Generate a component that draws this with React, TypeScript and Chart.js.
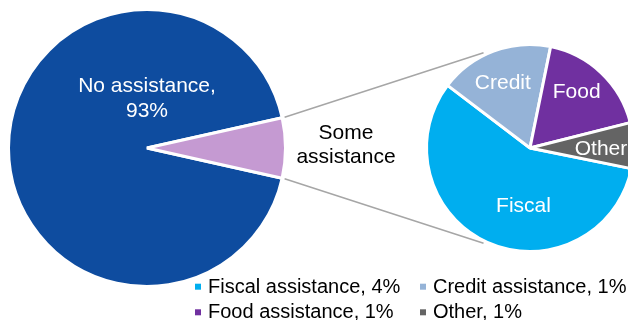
import React, { useEffect, useRef } from 'react';
import { Chart, registerables } from 'chart.js';

Chart.register(...registerables);

// ---- data ----
const MAIN_LABELS = ['No assistance', 'Some assistance'];
const MAIN_VALUES = [93, 7];
const DETAIL_LABELS = ['Fiscal', 'Credit', 'Food', 'Other'];
const DETAIL_LEGEND = ['Fiscal assistance', 'Credit assistance', 'Food assistance', 'Other'];
const DETAIL_VALUES = [4.0, 1.25, 1.25, 0.5];

// ---- styles ----
const MAIN_COLORS = ['#0E4C9F', '#C59AD2'];
const DETAIL_COLORS = ['#00AEEF', '#95B3D7', '#7030A0', '#646464'];
const FONT = '"Liberation Sans", Arial, Helvetica, sans-serif';
const DETAIL_ROTATION = 101.5;
const CONNECTOR_ANGLE = 116; // degrees on the secondary pie
const MAIN_LABEL_OFFSETS = [-55.7, -30.7];
const SOME_LABEL_POS = { dx: 199, dy: [-9, 15.3] };
const DETAIL_LABEL_OFFSETS: [number, number][] = [
  [-6.5, 64],
  [-27.2, -58.7],
  [46.7, -49.7],
  [71, 7],
];
const LEGEND_COLS = [195, 420];
const LEGEND_ROWS = [292.7, 318.3];

export default function App() {
  const leftRef = useRef<HTMLCanvasElement | null>(null);
  const rightRef = useRef<HTMLCanvasElement | null>(null);

  useEffect(() => {
    if (!leftRef.current || !rightRef.current) return;
    const total = MAIN_VALUES.reduce((a, b) => a + b, 0);
    const someSpan = (MAIN_VALUES[1] / total) * 360;

    const mainLabelsPlugin = {
      id: 'mainLabels',
      afterDraw(chart: any) {
        const ctx = chart.ctx;
        const arc = chart.getDatasetMeta(0).data[0];
        const cx = arc.x;
        const cy = arc.y;
        ctx.save();
        ctx.font = `21px ${FONT}`;
        ctx.textAlign = 'center';
        ctx.textBaseline = 'alphabetic';
        ctx.fillStyle = '#FFFFFF';
        ctx.fillText(`${MAIN_LABELS[0]},`, cx, cy + MAIN_LABEL_OFFSETS[0]);
        ctx.fillText(`${MAIN_VALUES[0]}%`, cx, cy + MAIN_LABEL_OFFSETS[1]);
        ctx.fillStyle = '#000000';
        const words = MAIN_LABELS[1].split(' ');
        words.forEach((w, i) => {
          ctx.fillText(w, cx + SOME_LABEL_POS.dx, cy + SOME_LABEL_POS.dy[i]);
        });
        ctx.restore();
      },
    };

    const leftChart = new Chart(leftRef.current, {
      type: 'pie',
      data: {
        labels: MAIN_LABELS,
        datasets: [
          {
            data: MAIN_VALUES,
            backgroundColor: MAIN_COLORS,
            borderColor: '#FFFFFF',
            borderWidth: 3,
            hoverBorderWidth: 3,
            hoverOffset: 0,
            offset: 0,
          } as any,
        ],
      },
      options: {
        responsive: false,
        animation: false,
        events: [],
        rotation: 90 + someSpan / 2,
        layout: { padding: { left: 7, top: 8, right: 341, bottom: 32 } },
        plugins: { legend: { display: false }, tooltip: { enabled: false } },
      } as any,
      plugins: [mainLabelsPlugin],
    });

    const detailPlugin = {
      id: 'detailDecor',
      afterDraw(chart: any) {
        const ctx = chart.ctx;
        const arc = chart.getDatasetMeta(0).data[0];
        const cx = arc.x;
        const cy = arc.y;
        const R = arc.outerRadius;
        ctx.save();
        // connectors
        const some = leftChart.getDatasetMeta(0).data[1] as any;
        const lr = some.outerRadius + 2.5;
        const a1 = some.startAngle;
        const a2 = some.endAngle;
        const rr = R + 2.5;
        const t1 = (-CONNECTOR_ANGLE * Math.PI) / 180;
        const t2 = (CONNECTOR_ANGLE * Math.PI) / 180;
        ctx.strokeStyle = '#A6A6A6';
        ctx.lineWidth = 1.5;
        ctx.beginPath();
        ctx.moveTo(some.x + lr * Math.cos(a1), some.y + lr * Math.sin(a1));
        ctx.lineTo(cx + rr * Math.cos(t1), cy + rr * Math.sin(t1));
        ctx.moveTo(some.x + lr * Math.cos(a2), some.y + lr * Math.sin(a2));
        ctx.lineTo(cx + rr * Math.cos(t2), cy + rr * Math.sin(t2));
        ctx.stroke();
        // slice labels
        ctx.font = `21px ${FONT}`;
        ctx.textAlign = 'center';
        ctx.textBaseline = 'alphabetic';
        ctx.fillStyle = '#FFFFFF';
        DETAIL_LABELS.forEach((t, i) => {
          ctx.fillText(t, cx + DETAIL_LABEL_OFFSETS[i][0], cy + DETAIL_LABEL_OFFSETS[i][1]);
        });
        // legend
        ctx.font = `20px ${FONT}`;
        ctx.textAlign = 'left';
        DETAIL_LEGEND.forEach((name, i) => {
          const col = i % 2;
          const row = Math.floor(i / 2);
          const x = LEGEND_COLS[col];
          const y = LEGEND_ROWS[row];
          ctx.fillStyle = DETAIL_COLORS[i];
          ctx.fillRect(x, y - 9, 6, 6);
          ctx.fillStyle = '#000000';
          ctx.fillText(`${name}, ${Math.round(DETAIL_VALUES[i])}%`, x + 13, y);
        });
        ctx.restore();
      },
    };

    const rightChart = new Chart(rightRef.current, {
      type: 'pie',
      data: {
        labels: DETAIL_LABELS,
        datasets: [
          {
            data: DETAIL_VALUES,
            backgroundColor: DETAIL_COLORS,
            borderColor: '#FFFFFF',
            borderWidth: 3,
            hoverBorderWidth: 3,
            hoverOffset: 0,
            offset: 0,
          } as any,
        ],
      },
      options: {
        responsive: false,
        animation: false,
        events: [],
        rotation: DETAIL_ROTATION,
        layout: { padding: { left: 425, top: 43, right: 5, bottom: 67 } },
        plugins: { legend: { display: false }, tooltip: { enabled: false } },
      } as any,
      plugins: [detailPlugin],
    });

    return () => {
      rightChart.destroy();
      leftChart.destroy();
    };
  }, []);

  return (
    <div
      style={{
        position: 'fixed',
        left: 0,
        top: 0,
        width: 628,
        height: 320,
        overflow: 'hidden',
        background: '#FFFFFF',
      }}
    >
      <canvas
        ref={leftRef}
        width={628}
        height={320}
        style={{ position: 'absolute', left: 0, top: 0 }}
      />
      <canvas
        ref={rightRef}
        width={640}
        height={320}
        style={{ position: 'absolute', left: 0, top: 0 }}
      />
    </div>
  );
}
